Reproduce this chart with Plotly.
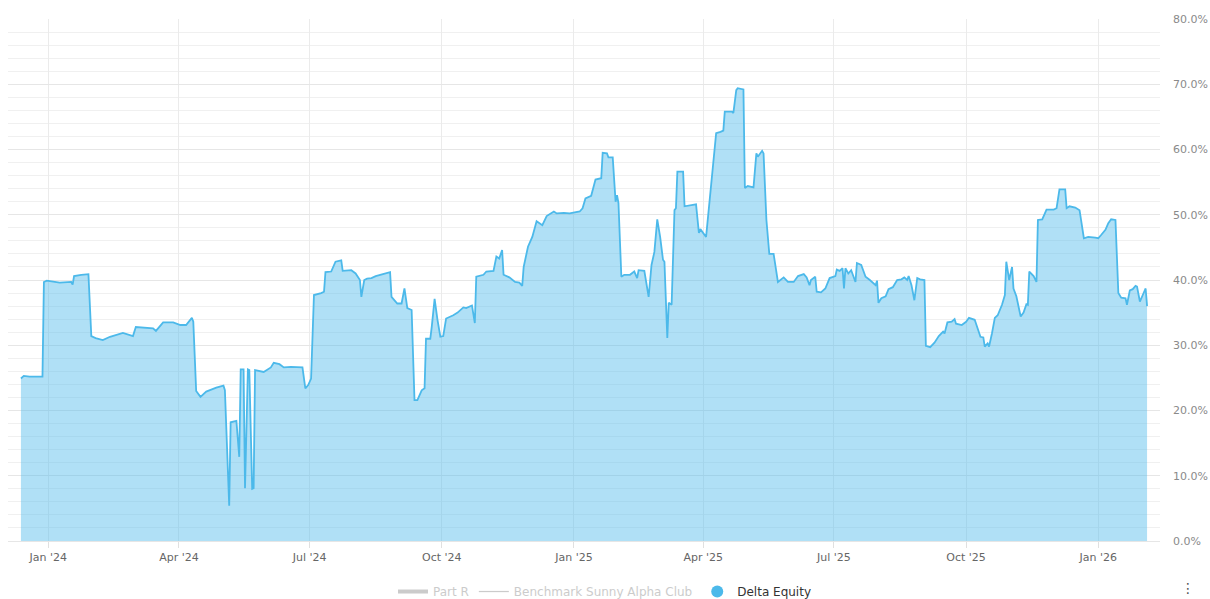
import plotly.graph_objects as go

dates = [
    "2023-12-13", "2023-12-15", "2023-12-19", "2023-12-28", "2023-12-29", "2023-12-31",
    "2024-01-09", "2024-01-17", "2024-01-18", "2024-01-19", "2024-01-24", "2024-01-29",
    "2024-01-31", "2024-02-03", "2024-02-08", "2024-02-13", "2024-02-22", "2024-02-25",
    "2024-02-29", "2024-03-02", "2024-03-07", "2024-03-14", "2024-03-16", "2024-03-21",
    "2024-03-28", "2024-04-02", "2024-04-06", "2024-04-08", "2024-04-10", "2024-04-11",
    "2024-04-13", "2024-04-16", "2024-04-20", "2024-04-27", "2024-05-02", "2024-05-03",
    "2024-05-06", "2024-05-07", "2024-05-11", "2024-05-13", "2024-05-14", "2024-05-16",
    "2024-05-17", "2024-05-19", "2024-05-20", "2024-05-22", "2024-05-23", "2024-05-24",
    "2024-05-30", "2024-06-04", "2024-06-06", "2024-06-10", "2024-06-13", "2024-06-18",
    "2024-06-24", "2024-06-26", "2024-06-28", "2024-06-30", "2024-07-02", "2024-07-04",
    "2024-07-09", "2024-07-11", "2024-07-12", "2024-07-16", "2024-07-19", "2024-07-23",
    "2024-07-24", "2024-07-30", "2024-08-02", "2024-08-05", "2024-08-06", "2024-08-08",
    "2024-08-10", "2024-08-13", "2024-08-16", "2024-08-21", "2024-08-26", "2024-08-27",
    "2024-08-31", "2024-09-03", "2024-09-05", "2024-09-07", "2024-09-10", "2024-09-12",
    "2024-09-14", "2024-09-17", "2024-09-19", "2024-09-20", "2024-09-23", "2024-09-24",
    "2024-09-26", "2024-09-28", "2024-09-30", "2024-10-02", "2024-10-04", "2024-10-09",
    "2024-10-12", "2024-10-16", "2024-10-18", "2024-10-22", "2024-10-24", "2024-10-25",
    "2024-10-30", "2024-11-01", "2024-11-06", "2024-11-08", "2024-11-10", "2024-11-12",
    "2024-11-13", "2024-11-17", "2024-11-21", "2024-11-24", "2024-11-26", "2024-11-27",
    "2024-11-30", "2024-12-03", "2024-12-06", "2024-12-10", "2024-12-13", "2024-12-18",
    "2024-12-20", "2024-12-25", "2024-12-29", "2025-01-05", "2025-01-07", "2025-01-09",
    "2025-01-13", "2025-01-16", "2025-01-20", "2025-01-21", "2025-01-24", "2025-01-25",
    "2025-01-28", "2025-01-30", "2025-01-31", "2025-02-01", "2025-02-03", "2025-02-05",
    "2025-02-09", "2025-02-12", "2025-02-14", "2025-02-15", "2025-02-19", "2025-02-22",
    "2025-02-24", "2025-02-26", "2025-02-28", "2025-03-02", "2025-03-04", "2025-03-05",
    "2025-03-07", "2025-03-08", "2025-03-09", "2025-03-10", "2025-03-12", "2025-03-13",
    "2025-03-14", "2025-03-18", "2025-03-19", "2025-03-24", "2025-03-27", "2025-03-29",
    "2025-03-30", "2025-04-03", "2025-04-06", "2025-04-08", "2025-04-10", "2025-04-13",
    "2025-04-15", "2025-04-16", "2025-04-21", "2025-04-22", "2025-04-24", "2025-04-25",
    "2025-04-29", "2025-04-30", "2025-05-02", "2025-05-06", "2025-05-08", "2025-05-09",
    "2025-05-12", "2025-05-13", "2025-05-15", "2025-05-17", "2025-05-20", "2025-05-23",
    "2025-05-27", "2025-05-30", "2025-06-03", "2025-06-06", "2025-06-10", "2025-06-12",
    "2025-06-14", "2025-06-15", "2025-06-18", "2025-06-19", "2025-06-22", "2025-06-25",
    "2025-06-28", "2025-07-02", "2025-07-03", "2025-07-05", "2025-07-07", "2025-07-08",
    "2025-07-09", "2025-07-11", "2025-07-13", "2025-07-16", "2025-07-17", "2025-07-20",
    "2025-07-23", "2025-07-26", "2025-07-30", "2025-07-31", "2025-08-01", "2025-08-03",
    "2025-08-06", "2025-08-08", "2025-08-11", "2025-08-14", "2025-08-17", "2025-08-19",
    "2025-08-21", "2025-08-22", "2025-08-24", "2025-08-26", "2025-08-28", "2025-08-30",
    "2025-09-02", "2025-09-03", "2025-09-06", "2025-09-09", "2025-09-12", "2025-09-15",
    "2025-09-16", "2025-09-18", "2025-09-21", "2025-09-23", "2025-09-24", "2025-09-28",
    "2025-10-01", "2025-10-03", "2025-10-07", "2025-10-09", "2025-10-11", "2025-10-13",
    "2025-10-14", "2025-10-16", "2025-10-17", "2025-10-19", "2025-10-21", "2025-10-23",
    "2025-10-26", "2025-10-28", "2025-10-29", "2025-10-31", "2025-11-02", "2025-11-03",
    "2025-11-05", "2025-11-08", "2025-11-10", "2025-11-12", "2025-11-13", "2025-11-14",
    "2025-11-17", "2025-11-19", "2025-11-20", "2025-11-23", "2025-11-26", "2025-12-01",
    "2025-12-03", "2025-12-05", "2025-12-09", "2025-12-10", "2025-12-12", "2025-12-16",
    "2025-12-19", "2025-12-22", "2025-12-25", "2025-12-30", "2026-01-01", "2026-01-03",
    "2026-01-06", "2026-01-08", "2026-01-10", "2026-01-13", "2026-01-15", "2026-01-17",
    "2026-01-20", "2026-01-21", "2026-01-23", "2026-01-25", "2026-01-27", "2026-01-28",
    "2026-01-30", "2026-02-01", "2026-02-03", "2026-02-04",
]

delta_equity = [
    24.9, 25.3, 25.2, 25.2, 39.7, 39.9,
    39.6, 39.7, 39.3, 40.6, 40.8, 40.9,
    31.4, 31.1, 30.8, 31.3, 31.9, 31.7,
    31.4, 32.8, 32.7, 32.6, 32.2, 33.5,
    33.5, 33.1, 33.1, 33.6, 34.2, 33.6,
    23.0, 22.1, 22.9, 23.5, 23.8, 23.1,
    5.4, 18.2, 18.4, 12.9, 26.3, 26.3,
    8.1, 26.3, 26.2, 8.0, 8.1, 26.2,
    25.9, 26.6, 27.3, 27.1, 26.6, 26.7,
    26.7, 26.6, 23.4, 23.9, 24.9, 37.7,
    38.0, 38.2, 41.2, 41.3, 42.8, 43.0,
    41.4, 41.5, 41.0, 40.0, 37.4, 40.0,
    40.2, 40.3, 40.6, 40.9, 41.2, 37.4,
    36.4, 36.4, 38.7, 35.7, 35.4, 21.6,
    21.6, 23.1, 23.4, 31.0, 31.0, 32.8,
    37.1, 33.9, 31.3, 31.4, 34.1, 34.6,
    35.0, 35.8, 35.7, 36.1, 33.4, 40.5,
    40.8, 41.3, 41.4, 43.6, 43.3, 44.6,
    40.8, 40.4, 39.7, 39.6, 39.1, 42.0,
    45.1, 46.6, 49.0, 48.4, 49.8, 50.5,
    50.2, 50.3, 50.2, 50.5, 51.0, 52.5,
    52.9, 55.4, 55.6, 59.5, 59.4, 58.8,
    58.8, 52.0, 53.0, 51.8, 40.5, 40.8,
    40.8, 41.3, 40.3, 41.5, 41.4, 37.4,
    42.3, 44.3, 49.3, 46.6, 43.1, 42.8,
    31.1, 36.5, 36.3, 36.2, 50.7, 51.0,
    56.6, 56.6, 51.3, 51.5, 51.6, 47.2,
    47.8, 46.6, 53.8, 58.9, 62.5, 62.7,
    62.9, 65.8, 65.8, 65.6, 69.1, 69.4,
    69.2, 54.1, 54.4, 54.2, 59.4, 58.9,
    59.8, 59.4, 49.2, 44.0, 44.0, 39.7,
    40.4, 39.7, 39.7, 40.6, 40.9, 40.4,
    39.2, 40.0, 40.5, 38.2, 38.1, 38.7,
    40.3, 40.6, 41.6, 41.4, 41.8, 38.7,
    41.8, 41.0, 41.5, 39.7, 42.6, 42.3,
    40.5, 40.0, 39.2, 39.9, 36.5, 37.2,
    37.5, 38.6, 38.9, 40.0, 40.1, 40.4,
    40.0, 40.6, 39.2, 36.9, 40.3, 40.1,
    40.0, 29.9, 29.7, 30.4, 31.4, 32.1,
    31.8, 33.5, 33.6, 34.0, 33.3, 33.1,
    33.6, 34.2, 33.9, 32.6, 31.3, 31.2,
    29.8, 30.3, 29.8, 31.8, 34.2, 34.6,
    36.2, 37.7, 42.8, 40.0, 42.0, 38.7,
    37.5, 34.4, 35.0, 36.3, 36.2, 41.3,
    40.6, 39.7, 49.2, 49.3, 50.8, 50.8,
    51.0, 53.9, 53.9, 51.0, 51.3, 51.1,
    50.7, 46.4, 46.6, 46.5, 46.4, 46.9,
    47.7, 48.7, 49.3, 49.2, 38.0, 37.3,
    37.2, 36.2, 38.4, 38.6, 39.1, 39.0,
    36.7, 37.7, 38.7, 36.0,
]

series_names = ["Part R", "Benchmark Sunny Alpha Club", "Delta Equity"]
x_tick_vals = ["2024-01-01", "2024-04-01", "2024-07-01", "2024-10-01", "2025-01-01",
               "2025-04-01", "2025-07-01", "2025-10-01", "2026-01-01"]
x_tick_text = ["Jan '24", "Apr '24", "Jul '24", "Oct '24", "Jan '25",
               "Apr '25", "Jul '25", "Oct '25", "Jan '26"]
y_tick_vals = [0, 10, 20, 30, 40, 50, 60, 70, 80]
y_tick_text = ["0.0%", "10.0%", "20.0%", "30.0%", "40.0%",
               "50.0%", "60.0%", "70.0%", "80.0%"]

LINE = "#4cb9ea"
FONT = "DejaVu Sans"

fig = go.Figure()

fig.add_trace(go.Scatter(
    x=[None], y=[None], mode="lines", visible="legendonly",
    name="<span style='color:#999999'>" + series_names[0] + "</span>",
    line=dict(color="#999999", width=4),
))
fig.add_trace(go.Scatter(
    x=[None], y=[None], mode="lines", visible="legendonly",
    name="<span style='color:#999999'>" + series_names[1] + "</span>",
    line=dict(color="#999999", width=1.2),
))
fig.add_trace(go.Scatter(
    x=dates, y=delta_equity, mode="lines", fill="tozeroy",
    line=dict(color=LINE, width=1.8), fillcolor="rgba(76,185,234,0.44)",
    name=series_names[2], legendgroup="de", showlegend=False,
    hovertemplate="%{x|%d %b %Y}<br>%{y:.1f}%<extra></extra>",
))
fig.add_trace(go.Scatter(
    x=[None], y=[None], mode="markers", name=series_names[2], legendgroup="de",
    marker=dict(color=LINE, size=12, symbol="circle"),
))

fig.update_layout(
    width=1210, height=599,
    margin=dict(l=8, r=50, t=19, b=58, autoexpand=False),
    paper_bgcolor="white", plot_bgcolor="white",
    font=dict(family=FONT, color="#333333", size=12),
    showlegend=True,
    legend=dict(
        orientation="h", xref="container", yref="paper",
        x=0.5, xanchor="center", y=-0.069, yanchor="top",
        font=dict(size=12, color="#333333"),
        bgcolor="rgba(0,0,0,0)",
    ),
    xaxis=dict(
        type="date", range=["2023-12-04", "2026-02-13"],
        tickvals=x_tick_vals, ticktext=x_tick_text,
        showgrid=True, gridcolor="#ebebeb", gridwidth=1,
        ticks="outside", ticklen=6, tickcolor="#e0e0e0",
        showline=True, linecolor="#e6e6e6", linewidth=1,
        tickfont=dict(size=11, color="#666666"),
        zeroline=False, automargin=False,
    ),
    yaxis=dict(
        side="right", range=[0, 80], tickvals=y_tick_vals, ticktext=y_tick_text,
        showgrid=True, gridcolor="#e6e6e6", gridwidth=1,
        minor=dict(dtick=2, showgrid=True, gridcolor="#f0f0f0", gridwidth=1),
        tickfont=dict(size=11, color="#8a8a8a"),
        ticklabelstandoff=12, zeroline=False, showline=False, automargin=False,
    ),
    annotations=[dict(
        text="⋮", xref="paper", yref="paper", x=1.0245, y=-0.09,
        xanchor="center", yanchor="middle",
        showarrow=False, font=dict(size=14, color="#555555"),
    )],
)

fig.write_html(
    "out.html",
    config={"displayModeBar": False},
    post_script="document.body.style.margin='0';document.body.style.overflow='hidden';",
)
